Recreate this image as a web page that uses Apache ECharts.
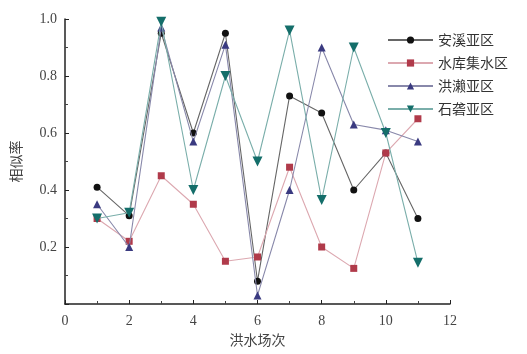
<!DOCTYPE html>
<html><head><meta charset="utf-8">
<script src="https://cdn.jsdelivr.net/npm/echarts@6/dist/echarts.min.js"></script>
<style>html,body{margin:0;padding:0;background:#fff}#c{width:527px;height:354px}</style>
</head><body><div id="c"></div>
<script>
const xValues = [1,2,3,4,5,6,7,8,9,10,11];
const seriesNames = ['安溪亚区','水库集水区','洪濑亚区','石砻亚区'];
const anxi =    [0.41,0.31,0.95,0.60,0.95,0.08,0.73,0.67,0.40,0.53,0.30];
const shuiku =  [0.30,0.22,0.45,0.35,0.15,0.165,0.48,0.20,0.125,0.53,0.65];
const hongl =   [0.35,0.20,0.97,0.57,0.91,0.03,0.40,0.90,0.63,0.61,0.57];
const shilong = [0.30,0.32,0.99,0.40,0.80,0.50,0.96,0.365,0.90,0.60,0.145];
const xTicks = [0,2,4,6,8,10,12];
const yTicks = [0.2,0.4,0.6,0.8,1.0];

const colors = ['#111111','#b03a4a','#3a3a80','#146e6a'];
const lineColors = ['#666666','#dca8b0','#8888aa','#7aaeaa'];
const symbols = ['circle','rect','triangle','path://M0,0 L10,0 L5,9 Z'];
const datas = [anxi, shuiku, hongl, shilong];

const chart = echarts.init(document.getElementById('c'), null, {renderer:'canvas'});
const cjk = '"Noto Sans CJK SC", sans-serif';
const serif = '"Liberation Serif", "DejaVu Serif", serif';
chart.setOption({
  animation:false,
  backgroundColor:'#fff',
  grid:{left:65,right:77,top:19,bottom:50,containLabel:false},
  legend:{
    orient:'vertical', right:14, top:28, itemWidth:45, itemHeight:9, itemGap:9,
    textStyle:{fontFamily:cjk,fontSize:14,color:'#333'},
    data: seriesNames.map((n,i)=>({name:n,itemStyle:{color:colors[i],borderColor:colors[i]}}))
  },
  xAxis:{
    type:'value', min:0, max:12, interval:2,
    name:'洪水场次', nameLocation:'middle', nameGap:26,
    nameTextStyle:{fontFamily:cjk,fontSize:14,color:'#444'},
    axisLine:{show:true,lineStyle:{color:'#222',width:1.5}},
    axisTick:{show:true,inside:true,length:4,lineStyle:{color:'#222'}},
    minorTick:{show:true,splitNumber:2,length:3,lineStyle:{color:'#444'}},
    axisLabel:{fontFamily:serif,fontSize:14,color:'#444',margin:10,
      formatter:v=>xTicks.includes(v)?String(v):''},
    splitLine:{show:false}
  },
  yAxis:{
    type:'value', min:0, max:1.0, interval:0.2,
    name:'相似率', nameLocation:'middle', nameGap:42, nameRotate:90,
    nameTextStyle:{fontFamily:cjk,fontSize:14,color:'#444'},
    axisLine:{show:true,lineStyle:{color:'#222',width:1.5}},
    axisTick:{show:true,inside:true,length:4,lineStyle:{color:'#222'}},
    minorTick:{show:true,splitNumber:2,length:3,lineStyle:{color:'#444'}},
    axisLabel:{fontFamily:serif,fontSize:14,color:'#444',margin:8,
      formatter:v=>{const t=yTicks.find(y=>Math.abs(y-v)<1e-6);return t===undefined?'':t.toFixed(1);}},
    splitLine:{show:false}
  },
  series: datas.map((d,i)=>({
    name:seriesNames[i], type:'line',
    data:d.map((v,j)=>[xValues[j],v]),
    symbol:symbols[i], symbolSize:i===3?10:(i===2?8:7),
    showAllSymbol:true,
    itemStyle:{color:colors[i]},
    lineStyle:{color:lineColors[i],width:1.1},
    z:2+i
  }))
});
</script></body></html>
